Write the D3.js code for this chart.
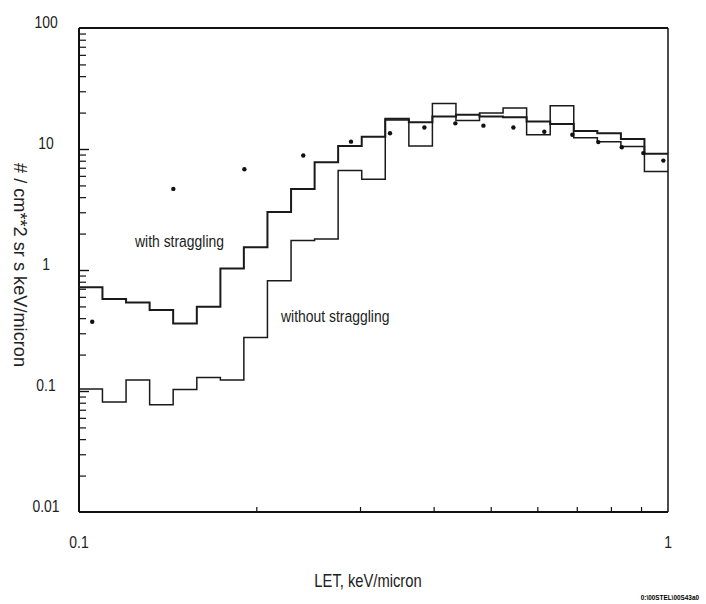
<!doctype html>
<html lang="en">
  <head>
    <meta charset="utf-8">
    <title>LET spectrum</title>
    <style>
      body { margin: 0; background: #fff; }
      svg { display: block; }
      .lbl { font-family: "Liberation Sans", Arial, sans-serif; font-size: 17px; fill: #222; }
      .ytitle { font-family: "Liberation Sans", Arial, sans-serif; font-size: 18px; fill: #222; }
      .axis path { display: none; }
      .axis line { stroke: #111; }
      .frame { fill: none; stroke: #111; }
      .hist { fill: none; stroke: #1a1a1a; }
    </style>
  </head>
  <body>
    <div class="chart"></div>
  <script src="https://d3js.org/d3.v7.min.js"></script>
  <script>
    // bin edges, 25 per decade (keV/micron)
    const binEdges = [0.1, 0.1096, 0.1202, 0.1318, 0.1445, 0.1585, 0.1738, 0.1905, 0.2089, 0.2291,
      0.2512, 0.2754, 0.3020, 0.3311, 0.3631, 0.3981, 0.4365, 0.4786, 0.5248, 0.5754,
      0.6310, 0.6918, 0.7586, 0.8318, 0.9120, 1.0];

    const withStraggling = [0.72, 0.575, 0.54, 0.467, 0.362, 0.497, 1.03, 1.54, 3.02, 4.68,
      7.78, 10.6, 12.6, 17.8, 16.6, 18.6, 19.2, 18.6, 18.3, 16.9,
      16.1, 14.1, 13.5, 12.1, 9.12];

    const withoutStraggling = [0.104, 0.081, 0.123, 0.077, 0.103, 0.129, 0.123, 0.277, 0.815, 1.75,
      1.80, 6.63, 5.63, 17.4, 10.6, 23.8, 17.2, 19.8, 21.8, 13.1,
      22.8, 12.4, 11.5, 10.5, 6.53];

    // measured points
    const dotLET = [0.1053, 0.1446, 0.1909, 0.2403, 0.2896, 0.3373, 0.3858, 0.4355,
      0.486, 0.5464, 0.6166, 0.688, 0.7615, 0.8347, 0.908, 0.982];
    const dotFlux = [0.373, 4.68, 6.81, 8.83, 11.5, 13.5, 15.05, 16.3,
      15.6, 15.05, 13.9, 13.1, 11.4, 10.35, 9.25, 8.02];

    const yTickLabels = [100, 10, 1, 0.1, 0.01];
    const xTickLabels = [0.1, 1];

    const margin = {top: 28, right: 38, bottom: 92, left: 79};
    const W = 706, H = 604;
    const width = W - margin.left - margin.right;
    const height = H - margin.top - margin.bottom;
    const narrow = 0.82;

    const x = d3.scaleLog().domain([0.1, 1]).range([0, width]);
    const y = d3.scaleLog().domain([0.01, 100]).range([height, 0]);

    const svg = d3.select('.chart').append('svg')
        .attr('width', W)
        .attr('height', H);
    const g = svg.append('g')
        .attr('transform', `translate(${margin.left},${margin.top})`);

    // condensed text (no narrow face installed), squeezed horizontally
    function ntext(parent, tx, ty, str, anchor, size) {
      return parent.append('text')
          .attr('class', 'lbl')
          .attr('transform', `translate(${tx},${ty}) scale(${narrow},1)`)
          .attr('text-anchor', anchor || 'start')
          .style('font-size', (size || 17) + 'px')
          .text(str);
    }

    // minor / major ticks on the left axis, pointing inwards
    const yMinor = [];
    [0.01, 0.1, 1, 10].forEach(d => {
      for (let k = 2; k <= 9; k++) yMinor.push(d * k);
    });
    g.append('g').attr('class', 'axis')
        .call(d3.axisRight(y).tickValues(yMinor).tickSize(7).tickFormat(''))
      .selectAll('line').attr('stroke-width', 1.2);
    g.append('g').attr('class', 'axis')
        .call(d3.axisRight(y).tickValues([0.1, 1, 10]).tickSize(10).tickFormat(''))
      .selectAll('line').attr('stroke-width', 1.4);

    const xMinor = [0.2, 0.3, 0.4, 0.5, 0.6, 0.7, 0.8, 0.9];
    g.append('g').attr('class', 'axis')
        .attr('transform', `translate(0,${height})`)
        .call(d3.axisTop(x).tickValues(xMinor).tickSize(5).tickFormat(''))
      .selectAll('line').attr('stroke-width', 1.2);

    // frame
    g.append('line').attr('class', 'frame').attr('x1', 0).attr('x2', 0)
        .attr('y1', 0).attr('y2', height).attr('stroke-width', 2);
    g.append('line').attr('class', 'frame').attr('x1', 0).attr('x2', width)
        .attr('y1', height).attr('y2', height).attr('stroke-width', 2);
    g.append('line').attr('class', 'frame').attr('x1', 0).attr('x2', width)
        .attr('y1', 0).attr('y2', 0).attr('stroke-width', 2);
    g.append('line').attr('class', 'frame').attr('x1', width).attr('x2', width)
        .attr('y1', 0).attr('y2', height).attr('stroke-width', 1.5);

    // tick labels
    yTickLabels.forEach(d => ntext(g, 46 - margin.left, y(d), d, 'middle', 17));
    xTickLabels.forEach(d => ntext(g, x(d), height + 36, d, 'middle', 17));

    // histograms
    function steps(values) {
      const pts = values.map((v, i) => [binEdges[i], v]);
      pts.push([binEdges[binEdges.length - 1], values[values.length - 1]]);
      return pts;
    }
    const line = d3.line()
        .x(d => x(d[0]))
        .y(d => y(d[1]))
        .curve(d3.curveStepAfter);

    g.append('path').attr('class', 'hist')
        .attr('d', line(steps(withoutStraggling)))
        .attr('stroke-width', 1.5);
    g.append('path').attr('class', 'hist')
        .attr('d', line(steps(withStraggling)))
        .attr('stroke-width', 2);

    // data points
    g.selectAll('.dot').data(dotLET).enter().append('circle')
        .attr('cx', d => x(d))
        .attr('cy', (d, i) => y(dotFlux[i]))
        .attr('r', 2.2)
        .attr('fill', '#111');

    // annotations
    ntext(svg, 135, 247, 'with straggling', 'start', 17);
    ntext(svg, 281, 322, 'without straggling', 'start', 17);

    // axis titles
    ntext(svg, 368, 587, 'LET, keV/micron', 'middle', 18);
    svg.append('text').attr('class', 'ytitle')
        .attr('transform', 'translate(14,265) rotate(90)')
        .attr('text-anchor', 'middle')
        .attr('textLength', 204)
        .attr('lengthAdjust', 'spacingAndGlyphs')
        .text('# / cm**2 sr s keV/micron');

    svg.append('text')
        .attr('transform', 'translate(699,600) scale(0.8,1)')
        .attr('text-anchor', 'end')
        .style('font-family', '"Liberation Sans", sans-serif')
        .style('font-size', '8px')
        .style('font-weight', 'bold')
        .attr('fill', '#000')
        .text('0:\\00STEL\\00S43a0');
  </script>
  </body>
</html>
